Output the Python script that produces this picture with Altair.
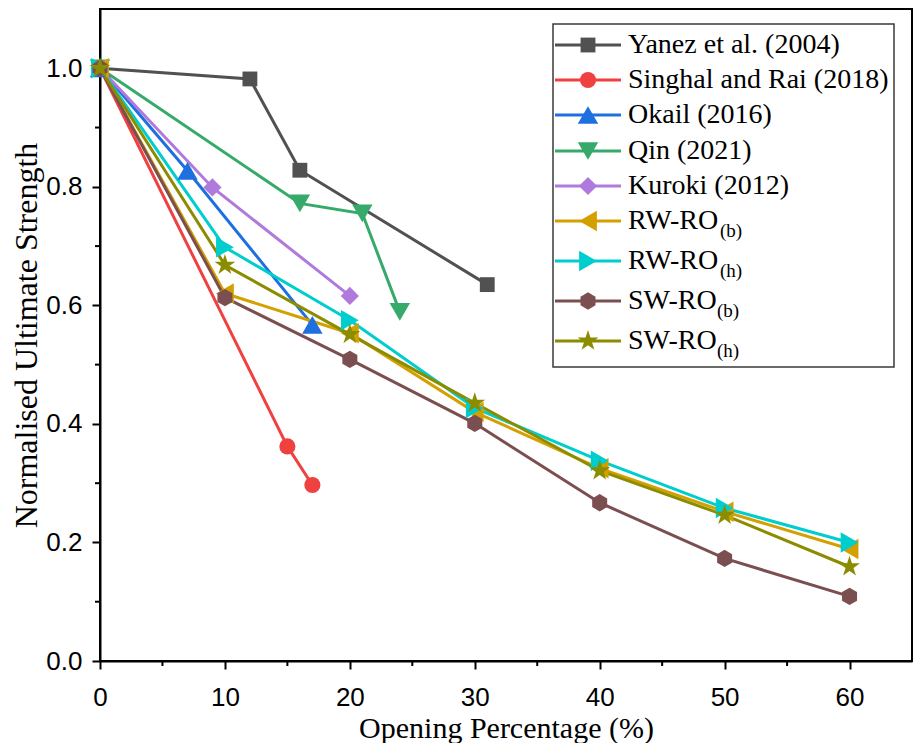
import altair as alt
import pandas as pd

# ---------------- data ----------------
series = ["Yanez et al. (2004)", "Singhal and Rai (2018)", "Okail (2016)", "Qin (2021)",
          "Kuroki (2012)", "RW-RO(b)", "RW-RO(h)", "SW-RO(b)", "SW-RO(h)"]
legend_main = ["Yanez et al. (2004)", "Singhal and Rai (2018)", "Okail (2016)", "Qin (2021)",
               "Kuroki (2012)", "RW-RO", "RW-RO", "SW-RO", "SW-RO"]
legend_sub = ["", "", "", "", "", "(b)", "(h)", "(b)", "(h)"]

yanez_x = [0, 12, 16, 31]
yanez_y = [1.0, 0.982, 0.828, 0.635]
singhal_x = [0, 15, 17]
singhal_y = [1.0, 0.362, 0.297]
okail_x = [0, 7, 17]
okail_y = [1.0, 0.827, 0.567]
qin_x = [0, 16, 21, 24]
qin_y = [1.0, 0.772, 0.755, 0.589]
kuroki_x = [0, 9, 20]
kuroki_y = [1.0, 0.799, 0.616]
ro_x = [0, 10, 20, 30, 40, 50, 60]
rw_b_y = [1.0, 0.620, 0.553, 0.420, 0.325, 0.252, 0.189]
rw_h_y = [1.0, 0.698, 0.575, 0.427, 0.338, 0.258, 0.200]
sw_b_y = [1.0, 0.613, 0.509, 0.401, 0.267, 0.173, 0.109]
sw_h_y = [1.0, 0.668, 0.551, 0.435, 0.321, 0.246, 0.159]

x_major = [0, 10, 20, 30, 40, 50, 60]
x_minor = [5, 15, 25, 35, 45, 55]
y_major = [0.0, 0.2, 0.4, 0.6, 0.8, 1.0]
y_minor = [0.1, 0.3, 0.5, 0.7, 0.9]

# ---------------- style ----------------
colors = ["#515151", "#F04141", "#1E6FE0", "#36AA6A", "#B07ADD",
          "#D4A000", "#00CDCD", "#7B4F4F", "#8C8C00"]
hexagon = "M0,-1L0.866,-0.5L0.866,0.5L0,1L-0.866,0.5L-0.866,-0.5Z"
star = ("M0,-1L0.225,-0.309L0.951,-0.309L0.363,0.118L0.588,0.809L0,0.382"
        "L-0.588,0.809L-0.363,0.118L-0.951,-0.309L-0.225,-0.309Z")
shapes = ["square", "circle", "triangle-up", "triangle-down", "diamond",
          "triangle-left", "triangle-right", hexagon, star]
sizes = [220, 260, 420, 420, 330, 420, 420, 300, 480]

W, H = 812, 652
SERIF = "Liberation Serif"
SANS = "Liberation Sans"

# legend layout (pixels in plot coordinates)
leg_rows = [36, 71, 106, 142, 177, 212, 252, 292, 332]
leg_box = (453, 794, 15, 358)
leg_line = (455, 521)
leg_mark_x = 488
leg_text_x = 528
sub_width = {"RW-RO": 92, "SW-RO": 89}

# ---------------- tables ----------------
xs_list = [yanez_x, singhal_x, okail_x, qin_x, kuroki_x, ro_x, ro_x, ro_x, ro_x]
ys_list = [yanez_y, singhal_y, okail_y, qin_y, kuroki_y, rw_b_y, rw_h_y, sw_b_y, sw_h_y]
recs = []
for s, xs, ys in zip(series, xs_list, ys_list):
    for xv, yv in zip(xs, ys):
        recs.append({"series": s, "x": xv, "y": yv})
df = pd.DataFrame(recs)

leg = pd.DataFrame({
    "series": series,
    "main": legend_main,
    "sub": legend_sub,
    "ly": leg_rows,
    "sy": [r + 10 for r in leg_rows],
    "sx": [leg_text_x + sub_width.get(m, 0) for m in legend_main],
})

size_expr = "{}[indexof({}, datum.series)]".format(sizes, [str(s) for s in series])

color_scale = alt.Scale(domain=series, range=colors)
shape_scale = alt.Scale(domain=series, range=shapes)

x_axis = alt.Axis(values=x_major, title="Opening Percentage (%)", grid=False,
                  tickSize=8, tickWidth=2, tickColor="black", domainWidth=2, domainColor="black",
                  labelFont=SANS, labelFontSize=26, labelColor="black", labelPadding=15,
                  titleFont=SERIF, titleFontSize=30, titleFontWeight="normal",
                  titleColor="black", titlePadding=3, labelFlush=False)
y_axis = alt.Axis(values=y_major, format=".1f", title="Normalised Ultimate Strength", grid=False,
                  tickSize=8, tickWidth=2, tickColor="black", domainWidth=2, domainColor="black",
                  labelFont=SANS, labelFontSize=26, labelColor="black", labelPadding=10,
                  titleFont=SERIF, titleFontSize=32, titleFontWeight="normal",
                  titleColor="black", titlePadding=2, labelFlush=False)

xs_ = alt.Scale(domain=[0, 65], nice=False)
ys_ = alt.Scale(domain=[0, 1.1], nice=False)
X = alt.X("x:Q", scale=xs_, axis=x_axis)
Y = alt.Y("y:Q", scale=ys_, axis=y_axis)

base = alt.Chart(df)
lines = base.mark_line(strokeWidth=3).encode(
    x=X, y=Y,
    color=alt.Color("series:N", scale=color_scale, legend=None),
    order=alt.Order("x:Q"),
)
points = base.transform_calculate(msize=size_expr).mark_point(
    filled=True, opacity=1, strokeWidth=0).encode(
    x=X, y=Y,
    color=alt.Color("series:N", scale=color_scale, legend=None),
    shape=alt.Shape("series:N", scale=shape_scale, legend=None),
    size=alt.Size("msize:Q", scale=None, legend=None),
)

xminor = alt.Chart(pd.DataFrame({"x": x_minor})).mark_rule(color="black", strokeWidth=2).encode(
    x=X, y=alt.value(H), y2=alt.value(H + 5),
)
yminor = alt.Chart(pd.DataFrame({"y": y_minor})).mark_rule(color="black", strokeWidth=2).encode(
    y=Y, x=alt.value(-5), x2=alt.value(0),
)

lb = alt.Chart(leg)
box = lb.mark_rect(fill="white", stroke="#3a3a3a", strokeWidth=1.5).encode(
    x=alt.value(leg_box[0]), x2=alt.value(leg_box[1]),
    y=alt.value(leg_box[2]), y2=alt.value(leg_box[3]),
).transform_filter(alt.datum.series == series[0])
leg_lines = lb.mark_rule(strokeWidth=3).encode(
    x=alt.value(leg_line[0]), x2=alt.value(leg_line[1]),
    y=alt.Y("ly:Q", scale=None),
    color=alt.Color("series:N", scale=color_scale, legend=None),
)
leg_pts = lb.transform_calculate(msize=size_expr).mark_point(
    filled=True, opacity=1, strokeWidth=0).encode(
    x=alt.value(leg_mark_x),
    y=alt.Y("ly:Q", scale=None),
    color=alt.Color("series:N", scale=color_scale, legend=None),
    shape=alt.Shape("series:N", scale=shape_scale, legend=None),
    size=alt.Size("msize:Q", scale=None, legend=None),
)
leg_txt = lb.mark_text(align="left", baseline="middle", font=SERIF, fontSize=28, color="black").encode(
    x=alt.value(leg_text_x),
    y=alt.Y("ly:Q", scale=None),
    text="main:N",
)
leg_sub = lb.mark_text(align="left", baseline="middle", font=SERIF, fontSize=19, color="black").encode(
    x=alt.X("sx:Q", scale=None),
    y=alt.Y("sy:Q", scale=None),
    text="sub:N",
)

chart = alt.layer(lines, points, xminor, yminor, box, leg_lines, leg_pts, leg_txt, leg_sub).properties(
    width=W, height=H,
    autosize=alt.AutoSizeParams(type="none"),
    padding={"left": 92, "top": 1, "right": 2, "bottom": 82},
    background="white",
).configure_view(stroke="black", strokeWidth=2)

chart.save("out.html", embed_options={"renderer": "svg", "actions": False})
